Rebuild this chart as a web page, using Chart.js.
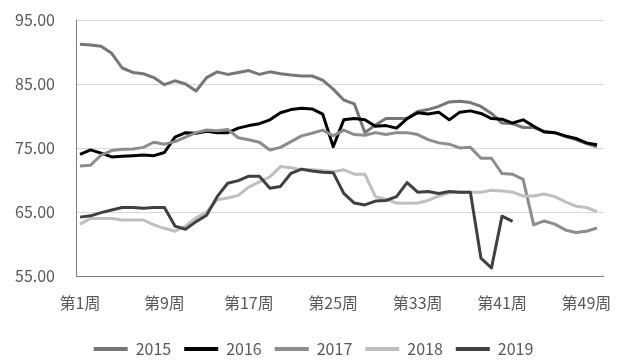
<!DOCTYPE html>
<html>
<head>
<meta charset="utf-8">
<script src="https://cdn.jsdelivr.net/npm/chart.js@4"></script>
<style>
  html, body { margin: 0; padding: 0; background: #fff; }
  #wrap { width: 620px; height: 364px; }
</style>
</head>
<body>
<div id="wrap"><canvas id="weekChart" width="620" height="364"></canvas></div>
<script>
// week labels (categories)
var weeks = ["第1周","第2周","第3周","第4周","第5周","第6周","第7周","第8周","第9周","第10周",
  "第11周","第12周","第13周","第14周","第15周","第16周","第17周","第18周","第19周","第20周",
  "第21周","第22周","第23周","第24周","第25周","第26周","第27周","第28周","第29周","第30周",
  "第31周","第32周","第33周","第34周","第35周","第36周","第37周","第38周","第39周","第40周",
  "第41周","第42周","第43周","第44周","第45周","第46周","第47周","第48周","第49周","第50周"];
var shownWeeks = [1, 9, 17, 25, 33, 41, 49];
var yTicks = [55, 65, 75, 85, 95];

var years = ["2015", "2016", "2017", "2018", "2019"];
var colors = ["#767676", "#000000", "#8c8c8c", "#bfbfbf", "#404040"];

var s2015 = [91.2, 91.1, 90.9, 89.8, 87.5, 86.8, 86.6, 86.0, 84.9, 85.5,
  85.0, 83.9, 86.0, 86.9, 86.5, 86.8, 87.1, 86.5, 86.9, 86.6,
  86.4, 86.25, 86.25, 85.6, 84.2, 82.5, 81.9, 77.4, 78.6, 79.6,
  79.6, 79.6, 80.7, 81.0, 81.5, 82.2, 82.3, 82.1, 81.5, 80.4,
  78.9, 78.8, 78.2, 78.2, 77.6, 77.4, 76.8, 76.3, 75.7, 75.2];
var s2016 = [74.0, 74.7, 74.2, 73.6, 73.7, 73.8, 73.9, 73.8, 74.3, 76.7,
  77.4, 77.3, 77.6, 77.4, 77.4, 78.1, 78.5, 78.8, 79.4, 80.5,
  81.0, 81.2, 81.1, 80.3, 75.2, 79.4, 79.6, 79.4, 78.4, 78.5,
  78.1, 79.6, 80.5, 80.3, 80.6, 79.4, 80.6, 80.8, 80.4, 79.6,
  79.5, 78.9, 79.4, 78.4, 77.5, 77.4, 76.9, 76.5, 75.8, 75.5];
var s2017 = [72.2, 72.3, 73.9, 74.6, 74.8, 74.85, 75.1, 75.9, 75.6, 76.0,
  76.7, 77.4, 77.8, 77.7, 77.9, 76.6, 76.3, 75.9, 74.7, 75.1,
  76.0, 76.9, 77.3, 77.8, 76.9, 77.8, 77.1, 77.0, 77.4, 77.1,
  77.4, 77.4, 77.1, 76.3, 75.8, 75.6, 75.0, 75.1, 73.4, 73.4,
  71.0, 70.9, 70.1, 63.0, 63.6, 63.1, 62.2, 61.8, 62.0, 62.5];
var s2018 = [63.1, 64.0, 64.0, 64.0, 63.75, 63.75, 63.75, 63.0, 62.45, 62.0,
  62.8, 64.1, 65.0, 66.9, 67.2, 67.6, 68.9, 69.7, 70.5, 72.1,
  71.9, 71.6, 71.6, 71.5, 71.3, 71.6, 70.9, 70.9, 67.4, 67.0,
  66.4, 66.35, 66.4, 66.8, 67.5, 68.0, 68.1, 68.1, 68.1, 68.4,
  68.3, 68.1, 67.5, 67.5, 67.8, 67.4, 66.6, 65.9, 65.7, 65.05];
var s2019 = [64.2, 64.4, 64.9, 65.3, 65.7, 65.7, 65.6, 65.7, 65.7, 62.8,
  62.3, 63.5, 64.5, 67.4, 69.5, 69.9, 70.6, 70.6, 68.7, 69.0,
  71.05, 71.7, 71.4, 71.2, 71.15, 67.9, 66.4, 66.1, 66.7, 66.8,
  67.4, 69.6, 68.1, 68.2, 67.9, 68.2, 68.1, 68.1, 57.8, 56.25,
  64.35, 63.55];

var allSeries = [s2015, s2016, s2017, s2018, s2019];

Chart.defaults.font.family = "'Noto Sans CJK SC', 'Noto Sans', sans-serif";
Chart.defaults.font.size = 16;
Chart.defaults.color = "#595959";

var datasets = allSeries.map(function (s, i) {
  return {
    label: years[i],
    data: s.map(function (v, j) { return { x: j + 1, y: v }; }),
    borderColor: colors[i],
    backgroundColor: colors[i],
    borderWidth: 3,
    pointRadius: 0,
    tension: 0,
    borderJoinStyle: 'round',
    order: years.length - i   // later years drawn on top, like the original
  };
});

// legend in the original sits a bit right of centre
var legendShift = {
  id: 'legendShift',
  afterLayout: function (chart) {
    chart.legend.left += 12;
    chart.legend.right += 12;
  }
};

var myChart = new Chart(document.getElementById("weekChart").getContext('2d'), {
  type: 'line',
  data: { datasets: datasets },
  plugins: [legendShift],
  options: {
    responsive: false,
    animation: false,
    layout: { padding: { left: 0, right: 17, top: 20, bottom: -3 } },
    scales: {
      x: {
        type: 'linear',
        min: 0.62,
        max: 50.57,
        grid: { display: false, drawTicks: false },
        border: { display: true, color: '#7f7f7f', width: 1 },
        afterBuildTicks: function (scale) {
          scale.ticks = shownWeeks.map(function (w) { return { value: w }; });
        },
        afterFit: function (scale) {
          scale.height = 52;
          scale.paddingLeft = 0;
          scale.paddingRight = 0;
        },
        ticks: {
          padding: 17,
          maxRotation: 0,
          autoSkip: false,
          callback: function (value) { return weeks[value - 1]; }
        }
      },
      y: {
        min: 55,
        max: 95,
        afterBuildTicks: function (scale) {
          scale.ticks = yTicks.map(function (v) { return { value: v }; });
        },
        afterFit: function (scale) {
          scale.width = 76;
          scale.paddingTop = 0;
          scale.paddingBottom = 0;
        },
        grid: { color: '#d9d9d9', drawTicks: false },
        border: { display: true, color: '#7f7f7f', width: 1 },
        ticks: {
          padding: 21,
          callback: function (value) { return value.toFixed(2); }
        }
      }
    },
    plugins: {
      legend: {
        position: 'bottom',
        reverse: true,
        labels: {
          boxWidth: 34,
          boxHeight: 4,
          padding: 13,
          generateLabels: function (chart) {
            var items = Chart.defaults.plugins.legend.labels.generateLabels(chart);
            items.forEach(function (it) {
              it.lineWidth = 0;
              it.fillStyle = it.strokeStyle;
            });
            return items;
          }
        }
      },
      tooltip: { enabled: false }
    }
  }
});
</script>
</body>
</html>
